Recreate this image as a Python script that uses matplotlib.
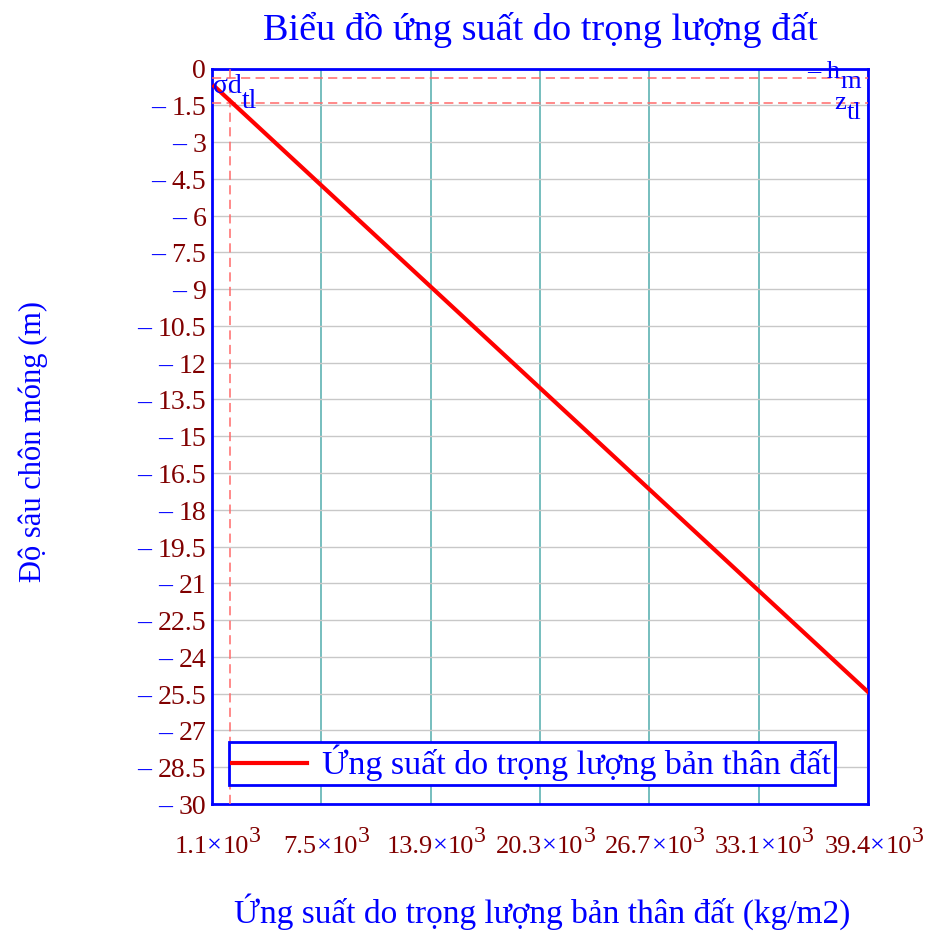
import numpy as np
import matplotlib
matplotlib.use('Agg')
import matplotlib.pyplot as plt
from matplotlib.textpath import TextToPath
from matplotlib.font_manager import FontProperties

# Шрифты (Times-подобный)
plt.rcParams['font.family'] = ['Liberation Serif', 'DejaVu Serif']

BLUE = '#0000ff'
DARKRED = '#800000'
RED = '#ff0000'
DASH = '#ff6a6a'
FS_X = 19     # подписи оси X
FS_Y = 20     # подписи оси Y
FS_A = 19     # метки у пунктиров

# Данные
stress = [1.25e3, 39.44e3]        # kg/m2
depth = [-0.72, -25.44]           # m
h_m = -0.375
z_tl = -1.42
sigma_d_tl = 2.15e3

x_ticks = [1.1e3, 7.49e3, 13.88e3, 20.27e3, 26.66e3, 33.05e3, 39.44e3]
x_tick_labels = ['1.1', '7.5', '13.9', '20.3', '26.7', '33.1', '39.4']
y_ticks = [0, -1.5, -3, -4.5, -6, -7.5, -9, -10.5, -12, -13.5, -15, -16.5,
           -18, -19.5, -21, -22.5, -24, -25.5, -27, -28.5, -30]
y_tick_labels = ['0', '1.5', '3', '4.5', '6', '7.5', '9', '10.5', '12', '13.5', '15',
                 '16.5', '18', '19.5', '21', '22.5', '24', '25.5', '27', '28.5', '30']

fig = plt.figure(figsize=(9.28, 9.31), dpi=100)
ax = fig.add_axes([211.7 / 928, 1 - 804 / 931, 656.6 / 928, 735.5 / 931])

ax.plot(stress, depth, color=RED, linewidth=3, label='Ứng suất do trọng lượng bản thân đất', zorder=5)

# Пунктирные линии
dash = (0, (6, 3.5))
ax.axhline(h_m, color=DASH, linestyle=dash, linewidth=1.1, zorder=4)
ax.axhline(z_tl, color=DASH, linestyle=dash, linewidth=1.1, zorder=4)
ax.axvline(sigma_d_tl, color=DASH, linestyle=dash, linewidth=1.1, zorder=4)

ax.set_xlim(x_ticks[0], x_ticks[-1])
ax.set_ylim(-30, 0)
ax.set_xticks(x_ticks)
ax.set_yticks(y_ticks)
ax.set_xticklabels([])
ax.set_yticklabels([])
ax.tick_params(length=0)
ax.yaxis.grid(True, color='#c8c8c8', linewidth=1)
ax.xaxis.grid(True, color='#5fb3b3', linewidth=1.2)
for s in ax.spines.values():
    s.set_color(BLUE)
    s.set_linewidth(2)

# Подписи оси Y: синий минус + тёмно-красное число
for yv, lab in zip(y_ticks, y_tick_labels):
    t = ax.annotate(lab, xy=(0, yv), xycoords=('axes fraction', 'data'),
                    xytext=(-4, -2.5), textcoords='offset points',
                    ha='right', va='center', color=DARKRED, fontsize=FS_Y)
    if lab != '0':
        ax.annotate('–', xy=(0, 0), xycoords=t, xytext=(-4.5, 0), textcoords='offset points',
                    ha='right', va='bottom', color=BLUE, fontsize=FS_Y)

# Подписи оси X: число × 10^3
ttp = TextToPath()
prop = FontProperties(family='Liberation Serif', size=FS_X)
prop_sup = FontProperties(family='Liberation Serif', size=FS_X * 0.9)
for xv, lab in zip(x_ticks, x_tick_labels):
    w = (ttp.get_text_width_height_descent(lab + '×10', prop, ismath=False)[0]
         + ttp.get_text_width_height_descent('3', prop_sup, ismath=False)[0])
    t1 = ax.annotate(lab, xy=(xv, 0), xycoords=('data', 'axes fraction'),
                     xytext=(-w / 2 + 4, -35), textcoords='offset points',
                     ha='left', va='baseline', color=DARKRED, fontsize=FS_X)
    t2 = ax.annotate('×', xy=(1, 0), xycoords=t1, ha='left', va='bottom',
                     color=BLUE, fontsize=FS_X)
    t3 = ax.annotate('10', xy=(1, 0), xycoords=t2, ha='left', va='bottom',
                     color=DARKRED, fontsize=FS_X)
    ax.annotate('3', xy=(1, 0), xycoords=t3, xytext=(0, 8), textcoords='offset points',
                ha='left', va='bottom', color=DARKRED, fontsize=FS_X * 0.9)

# Метки у пунктирных линий (координаты в пикселях фигуры)
H = 931
s1 = ax.annotate('σd', xy=(213, H - 93), xycoords='figure pixels', ha='left', va='baseline',
                 color=BLUE, fontsize=FS_A + 1, zorder=6)
ax.annotate('tl', xy=(1, 0), xycoords=s1, xytext=(0, -11), textcoords='offset points',
            ha='left', va='bottom', color=BLUE, fontsize=FS_A + 1, zorder=6)
s2 = ax.annotate('m', xy=(861, H - 88), xycoords='figure pixels', ha='right', va='baseline',
                 color=BLUE, fontsize=FS_A, zorder=6)
ax.annotate('– h', xy=(0, 0), xycoords=s2, xytext=(0, 7), textcoords='offset points',
            ha='right', va='bottom', color=BLUE, fontsize=FS_A, zorder=6)
s3 = ax.annotate('tl', xy=(861, H - 119), xycoords='figure pixels', ha='right', va='baseline',
                 color=BLUE, fontsize=FS_A, zorder=6)
ax.annotate('z', xy=(0, 0), xycoords=s3, xytext=(0, 7), textcoords='offset points',
            ha='right', va='bottom', color=BLUE, fontsize=FS_A, zorder=6)

leg = ax.legend(loc='lower left', bbox_to_anchor=(0.026, 0.026), borderaxespad=0,
                fontsize=24.5, fancybox=False, framealpha=1, handlelength=2.2,
                handletextpad=0.45, borderpad=0.1, labelcolor=BLUE)
leg.get_frame().set_edgecolor(BLUE)
leg.get_frame().set_linewidth(2)

fig.text(540 / 928, 1 - 40 / 931, 'Biểu đồ ứng suất do trọng lượng đất',
         color=BLUE, fontsize=27.5, ha='center', va='baseline')
fig.text(542 / 928, 1 - 923 / 931, 'Ứng suất do trọng lượng bản thân đất (kg/m2)',
         color=BLUE, fontsize=24, ha='center', va='baseline')
fig.text(41 / 928, 1 - 442 / 931, 'Độ sâu chôn móng (m)', color=BLUE, fontsize=22,
         ha='center', va='baseline', rotation=90, rotation_mode='anchor')

fig.savefig('out.png', dpi=100)
